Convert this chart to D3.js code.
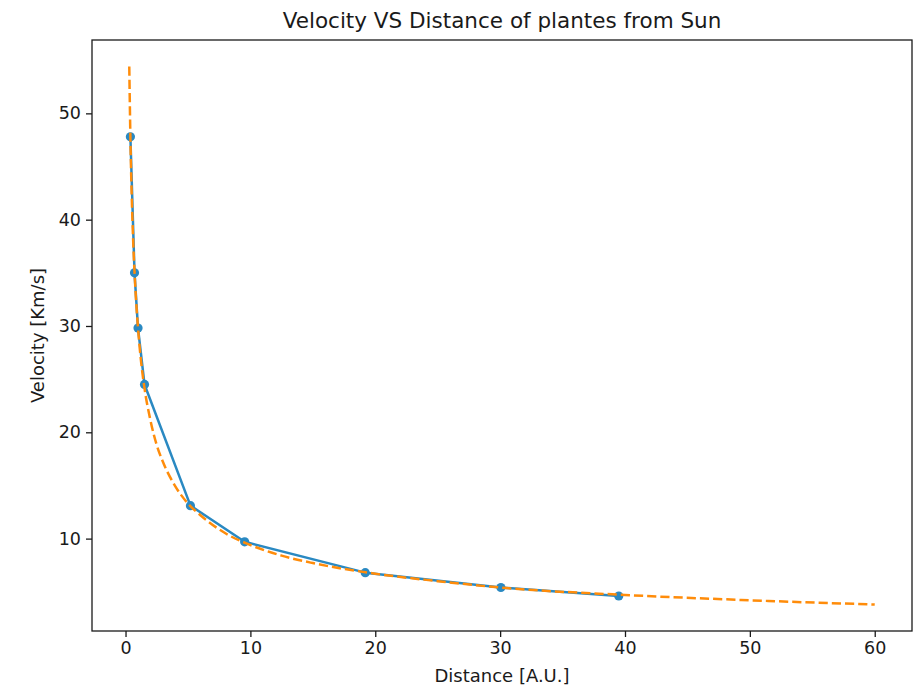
<!DOCTYPE html>
<html>
<head>
<meta charset="utf-8">
<script src="https://cdn.jsdelivr.net/npm/d3@7"></script>
<style>
  html, body { margin: 0; padding: 0; background: #fff; }
  svg { display: block; }
  text { font-family: "DejaVu Sans", sans-serif; fill: #1a1a1a; }
</style>
</head>
<body>
<div id="chart"></div>
<script>
// Measured orbital data: mean distance from the Sun and orbital velocity
const distanceAU = [0.39, 0.72, 1.0, 1.52, 5.2, 9.54, 19.2, 30.06, 39.5];
const velocityKms = [47.8, 35.0, 29.8, 24.5, 13.1, 9.7, 6.8, 5.4, 4.6];

// Fitted curve v ~ 1/sqrt(r), sampled along distance
const fitDistance = [0.3, 0.4, 0.5, 0.6, 0.8, 1.0, 1.25, 1.5, 2, 2.5, 3, 4, 5, 6, 8, 10, 12.5, 15, 20, 25, 30, 40, 50, 60];
const fitVelocity = [54.4, 47.1, 42.1, 38.4, 33.3, 29.8, 26.6, 24.3, 21.1, 18.8, 17.2, 14.9, 13.3, 12.2, 10.5, 9.4, 8.4, 7.7, 6.7, 6.0, 5.4, 4.7, 4.2, 3.8];

const xTicks = [0, 10, 20, 30, 40, 50, 60];
const yTicks = [10, 20, 30, 40, 50];

const W = 913, H = 688;
const margin = { left: 92, right: 1, top: 40, bottom: 57 };
const pw = W - margin.left - margin.right;
const ph = H - margin.top - margin.bottom;

const svg = d3.select("#chart").append("svg")
  .attr("width", W).attr("height", H);

const x = d3.scaleLinear().domain([-2.685, 62.985]).range([0, pw]);
const y = d3.scaleLinear().domain([1.31, 56.9]).range([ph, 0]);

const g = svg.append("g").attr("transform", `translate(${margin.left},${margin.top})`);

const blue = "#2a89c2", orange = "#ff8c0a";

// Observed planets: line with round markers
const obs = distanceAU.map((d, i) => [d, velocityKms[i]]);
g.append("path")
  .datum(obs)
  .attr("fill", "none")
  .attr("stroke", blue)
  .attr("stroke-width", 2.5)
  .attr("stroke-linejoin", "round")
  .attr("d", d3.line().x(d => x(d[0])).y(d => y(d[1])));

g.selectAll("circle.planet")
  .data(obs)
  .enter().append("circle")
  .attr("class", "planet")
  .attr("cx", d => x(d[0]))
  .attr("cy", d => y(d[1]))
  .attr("r", 4.6)
  .attr("fill", blue);

// Fitted curve, dashed
const fit = fitDistance.map((d, i) => [d, fitVelocity[i]]);
g.append("path")
  .datum(fit)
  .attr("fill", "none")
  .attr("stroke", orange)
  .attr("stroke-width", 2.5)
  .attr("stroke-dasharray", "9.2,4")
  .attr("d", d3.line().curve(d3.curveMonotoneX).x(d => x(d[0])).y(d => y(d[1])));

// Axes
const xAxis = d3.axisBottom(x).tickValues(xTicks).tickSize(6).tickPadding(5).tickFormat(d3.format("d"));
const yAxis = d3.axisLeft(y).tickValues(yTicks).tickSize(6).tickPadding(5).tickFormat(d3.format("d"));

const gx = g.append("g").attr("transform", `translate(0,${ph})`).call(xAxis);
const gy = g.append("g").call(yAxis);
[gx, gy].forEach(a => {
  a.select(".domain").remove();
  a.selectAll(".tick line").attr("stroke", "#1a1a1a").attr("stroke-width", 1.3);
  a.selectAll(".tick text").style("font-size", "17.5px").attr("fill", "#1a1a1a");
});

// Frame
g.append("rect")
  .attr("x", 0).attr("y", 0).attr("width", pw).attr("height", ph)
  .attr("fill", "none").attr("stroke", "#1a1a1a").attr("stroke-width", 1.3);

// Title and axis labels
svg.append("text")
  .attr("x", margin.left + pw / 2).attr("y", 28)
  .attr("text-anchor", "middle")
  .style("font-size", "21.5px")
  .text("Velocity VS Distance of plantes from Sun");

svg.append("text")
  .attr("x", margin.left + pw / 2).attr("y", 682)
  .attr("text-anchor", "middle")
  .style("font-size", "18px")
  .text("Distance [A.U.]");

svg.append("text")
  .attr("transform", `translate(44,${margin.top + ph / 2}) rotate(-90)`)
  .attr("text-anchor", "middle")
  .style("font-size", "18px")
  .text("Velocity [Km/s]");
</script>
</body>
</html>
